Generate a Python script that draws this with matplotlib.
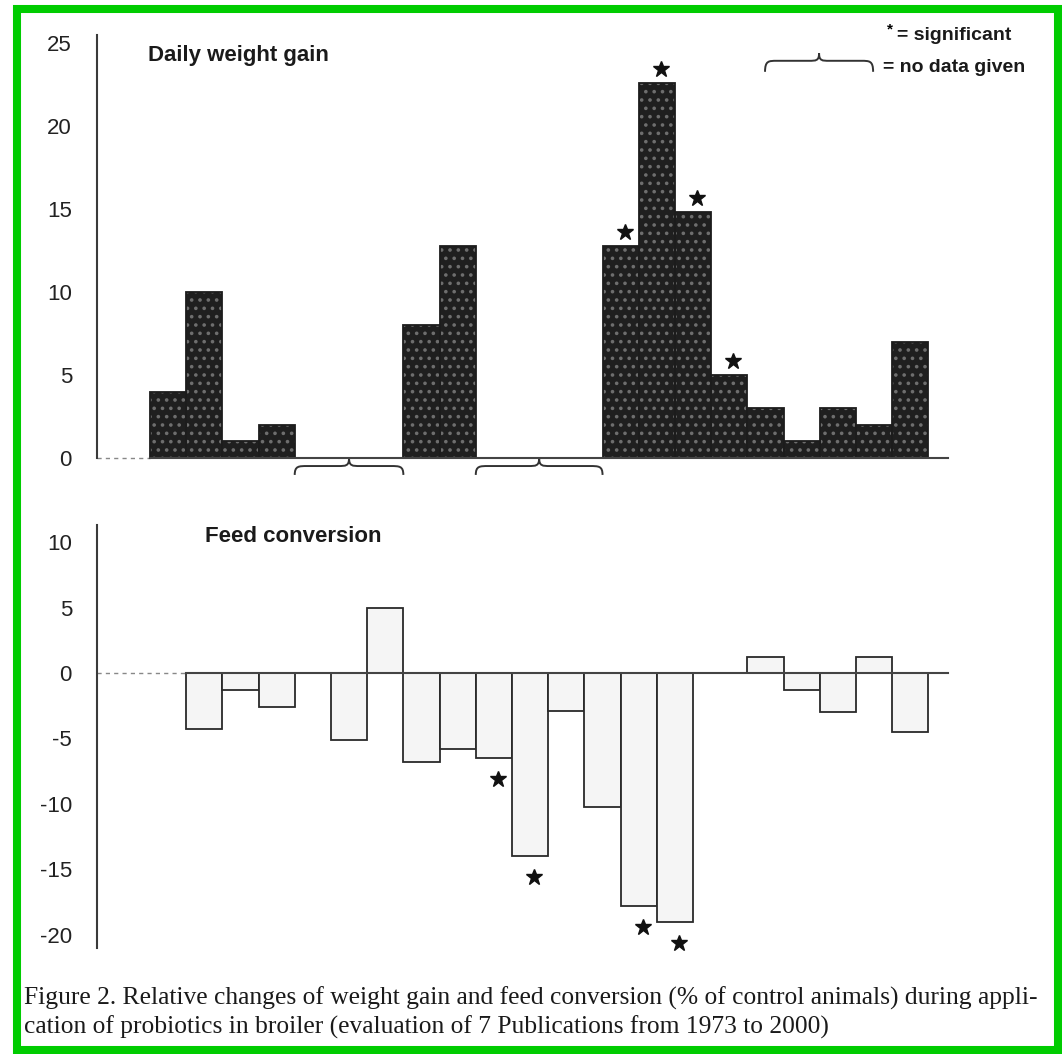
import matplotlib
matplotlib.use('Agg')
import matplotlib.pyplot as plt
from matplotlib.path import Path
from matplotlib.patches import PathPatch, Rectangle
from matplotlib.transforms import offset_copy

# daily weight gain, % of control animals (trial slot along the x axis)
gain_slot = [0, 1, 2, 3, 7, 8, 12.5, 13.5, 14.5, 15.5, 16.5, 17.5, 18.5, 19.5, 20.5]
gain_value = [4, 10, 1, 2, 8, 12.8, 12.8, 22.6, 14.8, 5, 3, 1, 3, 2, 7]
gain_signif = [0, 0, 0, 0, 0, 0, 1, 1, 1, 1, 0, 0, 0, 0, 0]

# feed conversion, % of control animals
feed_slot = [1, 2, 3, 5, 6, 7, 8, 9, 10, 11, 12, 13, 14, 16.5, 17.5, 18.5, 19.5, 20.5]
feed_value = [-4.3, -1.3, -2.6, -5.1, 5.0, -6.8, -5.8, -6.5, -14.0, -2.9, -10.2,
              -17.8, -19.0, 1.2, -1.3, -3.0, 1.2, -4.5]
feed_signif = [0, 0, 0, 0, 0, 0, 0, 1, 1, 0, 0, 1, 1, 0, 0, 0, 0, 0]

gain_ticks = [0, 5, 10, 15, 20, 25]
feed_ticks = [-20, -15, -10, -5, 0, 5, 10]

caption = ["Figure 2. Relative changes of weight gain and feed conversion (% of control animals) during appli-",
           "cation of probiotics in broiler (evaluation of 7 Publications from 1973 to 2000)"]

W, H = 1062, 1054
fig = plt.figure(figsize=(W / 100, H / 100), dpi=100)
plt.rcParams['font.family'] = ['Liberation Sans', 'DejaVu Sans']
plt.rcParams['axes.unicode_minus'] = False
plt.rcParams['hatch.linewidth'] = 1.4

xlim = (-1.46, 22.04)
ax1 = fig.add_axes([97 / W, 1 - 458 / H, 851 / W, 423 / H])
ax2 = fig.add_axes([97 / W, 1 - 948 / H, 851 / W, 423 / H])


def brace(ax, x0, x1, yp, ym, ye, a, b, trans):
    xc = (x0 + x1) / 2
    verts = [(x0, ye),
             (x0, ym), (x0 + a * 0.3, ym), (x0 + a, ym),
             (xc - b, ym),
             (xc - b * 0.3, ym), (xc, ym), (xc, yp),
             (xc, ym), (xc + b * 0.3, ym), (xc + b, ym),
             (x1 - a, ym),
             (x1 - a * 0.3, ym), (x1, ym), (x1, ye)]
    codes = [Path.MOVETO] + [Path.CURVE4] * 3 + [Path.LINETO] + [Path.CURVE4] * 6 + \
            [Path.LINETO] + [Path.CURVE4] * 3
    ax.add_patch(PathPatch(Path(verts, codes), fill=False, edgecolor='#333333',
                           lw=1.4, transform=trans, clip_on=False))


def baseline(ax, first):
    ax.plot([xlim[0], first], [0, 0], color='#888888', lw=1, ls=(0, (3, 3)), clip_on=False)
    ax.plot([first, xlim[1]], [0, 0], color='#444444', lw=1.5, clip_on=False)


# upper panel: daily weight gain
ax1.bar(gain_slot, gain_value, width=1, align='edge', color='#1f1f1f',
        hatch='..', edgecolor='#6e6e6e', linewidth=0)
ax1.bar(gain_slot, gain_value, width=1, align='edge', fill=False,
        edgecolor='#1c1c1c', linewidth=1.3)
baseline(ax1, min(gain_slot))
ax1.set_xlim(*xlim)
ax1.set_ylim(0, 25.5)
ax1.set_yticks(gain_ticks)

star1 = offset_copy(ax1.transData, fig=fig, x=4, y=14, units='dots')
for s, v, sig in zip(gain_slot, gain_value, gain_signif):
    if sig:
        ax1.plot(s + 0.5, v, marker='*', ms=12, color='#111111', transform=star1, clip_on=False)

# braces for the gaps where no data was given
order = sorted(gain_slot)
for left, right in zip(order[:-1], order[1:]):
    if right - (left + 1) > 0.01:
        brace(ax1, left + 1, right, 0.0, -0.019, -0.040, 0.35, 0.3, ax1.get_xaxis_transform())

# legend brace
brace(ax1, 0.7850, 0.9120, 0.957, 0.939, 0.913, 0.014, 0.012, ax1.transAxes)

# lower panel: feed conversion
ax2.bar(feed_slot, feed_value, width=1, align='edge', color='#f5f5f5',
        edgecolor='#2a2a2a', linewidth=1.3)
baseline(ax2, min(feed_slot))
ax2.set_xlim(*xlim)
ax2.set_ylim(-21, 11.3)
ax2.set_yticks(feed_ticks)

star2 = offset_copy(ax2.transData, fig=fig, x=4, y=-21, units='dots')
for s, v, sig in zip(feed_slot, feed_value, feed_signif):
    if sig:
        ax2.plot(s + 0.5, v, marker='*', ms=12, color='#111111', transform=star2, clip_on=False)

for ax in (ax1, ax2):
    for side in ('top', 'right', 'bottom'):
        ax.spines[side].set_visible(False)
    ax.spines['left'].set_color('#3a3a3a')
    ax.spines['left'].set_linewidth(1.5)
    ax.set_xticks([])
    ax.tick_params(axis='y', length=0, pad=18, labelsize=16, labelcolor='#222222')
    ax.patch.set_alpha(0)

fig.text(148 / W, 1 - 55 / H, 'Daily weight gain', fontsize=16, fontweight='bold',
         va='center', ha='left', color='#1a1a1a')
fig.text(205 / W, 1 - 537 / H, 'Feed conversion', fontsize=16, fontweight='bold',
         va='center', ha='left', color='#1a1a1a')
fig.text(887 / W, 1 - 29 / H, '*', fontsize=11, fontweight='bold', va='center', ha='left')
fig.text(897 / W, 1 - 35 / H, '= significant', fontsize=14, fontweight='bold',
         va='center', ha='left', color='#1a1a1a')
fig.text(883 / W, 1 - 67 / H, '= no data given', fontsize=14, fontweight='bold',
         va='center', ha='left', color='#1a1a1a')

fig.text(24 / W, 1 - 998 / H, caption[0], family='Liberation Serif', fontsize=18.4,
         va='center', ha='left', color='#1a1a1a')
fig.text(24 / W, 1 - 1027 / H, caption[1], family='Liberation Serif', fontsize=18.4,
         va='center', ha='left', color='#1a1a1a')

# green frame round the picture
fig.patches.append(Rectangle((17 / W, 1 - 1050 / H), (1058 - 17) / W, (1050 - 9) / H,
                             transform=fig.transFigure, fill=False,
                             edgecolor='#00cc00', linewidth=5.8))

fig.savefig('out.png', dpi=100)
